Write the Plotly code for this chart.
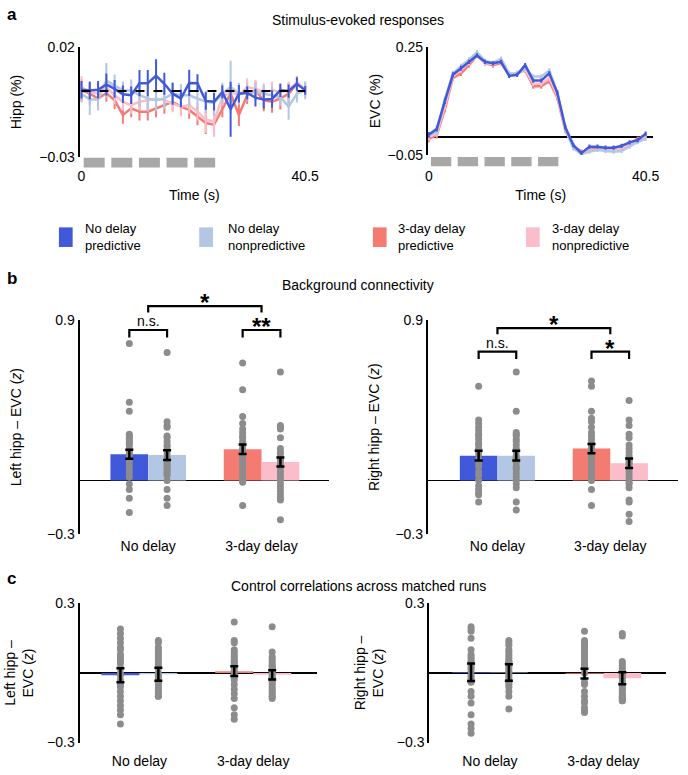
import plotly.graph_objects as go

W, H = 688, 775
FONT = "Liberation Sans, Arial, Helvetica, sans-serif"

# ---------------- data ----------------
conditions = ["No delay predictive", "No delay nonpredictive",
              "3-day delay predictive", "3-day delay nonpredictive"]
legend_lines = [("No delay", "predictive"), ("No delay", "nonpredictive"),
                ("3-day delay", "predictive"), ("3-day delay", "nonpredictive")]
colors = ["#4059DB", "#B3C6E4", "#F47B72", "#FBBDCA"]
groups = ["No delay", "3-day delay"]

time_s = [0, 1.5, 3, 4.5, 6, 7.5, 9, 10.5, 12, 13.5, 15, 16.5, 18, 19.5,
          21, 22.5, 24, 25.5, 27, 28.5, 30, 31.5, 33, 34.5, 36, 37.5, 39, 40.5]
stim_onsets = [0.4, 5.4, 10.4, 15.4, 20.4]
stim_dur = 3.8

# Panel a, hippocampus (%)
hipp_nd_pred = [0.0006, 0.0003, 0.0006, 0.0030, 0.0010, -0.0015, -0.0019, 0.0036, 0.0036, 0.0070,
                0.0033, -0.0012, -0.0034, 0.0037, 0.0036, -0.0045, -0.0049, -0.0004, -0.0083, -0.0012,
                -0.0009, -0.0030, -0.0039, -0.0036, 0.0003, 0.0000, 0.0033, 0.0003]
hipp_nd_nonp = [-0.0012, -0.0039, -0.0039, 0.0048, 0.0025, 0.0003, 0.0003, -0.0019, -0.0034, -0.0042,
                -0.0034, -0.0012, -0.0019, -0.0019, -0.0034, -0.0049, -0.0054, -0.0012, 0.0018, -0.0012,
                -0.0004, -0.0004, -0.0012, -0.0019, -0.0027, -0.0071, -0.0012, 0.0003]
hipp_dd_pred = [0.0003, -0.0012, -0.0034, -0.0009, -0.0042, -0.0109, -0.0079, -0.0094, -0.0094, -0.0079,
                -0.0064, -0.0049, -0.0071, -0.0086, -0.0116, -0.0146, -0.0153, -0.0079, -0.0012, -0.0109,
                -0.0019, 0.0003, -0.0042, -0.0049, -0.0034, -0.0012, 0.0033, 0.0006]
hipp_dd_nonp = [0.0018, -0.0004, -0.0012, 0.0018, -0.0019, -0.0049, -0.0064, -0.0049, -0.0042, -0.0034,
                -0.0042, -0.0057, -0.0071, -0.0064, -0.0094, -0.0131, -0.0138, -0.0027, -0.0004, -0.0019,
                0.0018, 0.0010, -0.0004, 0.0003, -0.0004, 0.0003, 0.0040, 0.0010]
hipp_err_nd_pred = [0.004, 0.004, 0.004, 0.005, 0.004, 0.004, 0.004, 0.006, 0.006, 0.0075,
                    0.005, 0.005, 0.004, 0.006, 0.004, 0.004, 0.004, 0.003, 0.0125, 0.004,
                    0.003, 0.004, 0.004, 0.004, 0.003, 0.003, 0.003, 0.002]
hipp_err_nd_nonp = [0.004, 0.007, 0.005, 0.008, 0.005, 0.004, 0.005, 0.005, 0.006, 0.005,
                    0.005, 0.005, 0.005, 0.005, 0.005, 0.005, 0.006, 0.005, 0.012, 0.005,
                    0.004, 0.004, 0.004, 0.004, 0.004, 0.006, 0.004, 0.004]
hipp_err_dd_pred = [0.005, 0.005, 0.004, 0.004, 0.004, 0.004, 0.004, 0.004, 0.004, 0.004,
                    0.004, 0.004, 0.004, 0.004, 0.004, 0.005, 0.005, 0.004, 0.004, 0.005,
                    0.004, 0.004, 0.005, 0.005, 0.005, 0.005, 0.003, 0.003]
hipp_err_dd_nonp = [0.005, 0.004, 0.004, 0.004, 0.004, 0.004, 0.004, 0.004, 0.004, 0.004,
                    0.004, 0.004, 0.004, 0.004, 0.004, 0.006, 0.007, 0.004, 0.004, 0.004,
                    0.004, 0.004, 0.004, 0.004, 0.004, 0.004, 0.003, 0.003]

# Panel a, EVC (%)
evc_nd_pred = [0.006, 0.023, 0.100, 0.173, 0.191, 0.209, 0.227, 0.209, 0.205, 0.209,
               0.170, 0.173, 0.200, 0.157, 0.157, 0.177, 0.123, 0.027, -0.023, -0.045,
               -0.027, -0.027, -0.030, -0.030, -0.025, -0.015, -0.009, 0.009]
evc_nd_nonp = [0.005, 0.014, 0.105, 0.177, 0.197, 0.215, 0.236, 0.212, 0.206, 0.218,
               0.177, 0.177, 0.191, 0.168, 0.168, 0.185, 0.123, 0.023, -0.032, -0.048,
               -0.041, -0.036, -0.039, -0.041, -0.039, -0.027, -0.014, -0.005]
evc_dd_pred = [-0.005, 0.005, 0.077, 0.164, 0.177, 0.200, 0.227, 0.205, 0.200, 0.206,
               0.173, 0.177, 0.186, 0.141, 0.141, 0.155, 0.109, 0.018, -0.027, -0.041,
               -0.036, -0.032, -0.034, -0.032, -0.027, -0.018, -0.005, 0.005]
evc_dd_nonp = [0.000, 0.009, 0.086, 0.168, 0.186, 0.206, 0.227, 0.206, 0.203, 0.209,
               0.175, 0.177, 0.188, 0.148, 0.148, 0.164, 0.114, 0.021, -0.030, -0.045,
               -0.039, -0.036, -0.037, -0.036, -0.032, -0.023, -0.009, 0.000]
evc_err_nd_pred = [0.008, 0.008, 0.008, 0.007, 0.007, 0.006, 0.006, 0.006, 0.006, 0.006,
                   0.006, 0.006, 0.006, 0.006, 0.006, 0.006, 0.007, 0.007, 0.006, 0.006,
                   0.006, 0.006, 0.006, 0.006, 0.006, 0.006, 0.006, 0.006]
evc_err_nd_nonp = [0.008, 0.008, 0.008, 0.007, 0.007, 0.007, 0.006, 0.006, 0.006, 0.006,
                   0.006, 0.006, 0.006, 0.006, 0.006, 0.006, 0.007, 0.007, 0.006, 0.006,
                   0.006, 0.006, 0.006, 0.006, 0.006, 0.006, 0.006, 0.006]
evc_err_dd_pred = [0.010, 0.009, 0.008, 0.007, 0.007, 0.007, 0.007, 0.007, 0.007, 0.007,
                   0.007, 0.007, 0.007, 0.007, 0.007, 0.007, 0.007, 0.007, 0.006, 0.006,
                   0.006, 0.006, 0.006, 0.006, 0.006, 0.006, 0.006, 0.006]
evc_err_dd_nonp = [0.009, 0.008, 0.008, 0.007, 0.007, 0.007, 0.007, 0.007, 0.007, 0.007,
                   0.007, 0.007, 0.007, 0.007, 0.007, 0.007, 0.007, 0.007, 0.006, 0.006,
                   0.006, 0.006, 0.006, 0.006, 0.006, 0.006, 0.006, 0.006]

# Panel b, background connectivity (z)
bg_left_means = [0.148, 0.143, 0.176, 0.104]
bg_left_sem = [0.025, 0.027, 0.027, 0.025]
bg_left_nd_pred = [0.77, 0.44, 0.39, 0.26, 0.25, 0.24, 0.23, 0.22, 0.21, 0.20, 0.18, 0.16,
                   0.14, 0.12, 0.10, 0.08, 0.06, 0.04, 0.02, -0.02, -0.05, -0.10, -0.18, 0.15]
bg_left_nd_nonp = [0.72, 0.33, 0.31, 0.30, 0.25, 0.24, 0.22, 0.20, 0.19, 0.17, 0.15, 0.13,
                   0.10, 0.09, 0.08, 0.07, 0.06, 0.05, 0.04, 0.03, -0.05, -0.10, -0.14, 0.00]
bg_left_dd_pred = [0.66, 0.51, 0.36, 0.32, 0.29, 0.27, 0.24, 0.22, 0.20, 0.18, 0.17, 0.15,
                   0.13, 0.11, 0.10, 0.08, 0.07, 0.06, 0.04, 0.02, 0.00, -0.01, -0.14, 0.25]
bg_left_dd_nonp = [0.61, 0.31, 0.30, 0.29, 0.24, 0.18, 0.16, 0.15, 0.13, 0.11, 0.09, 0.07,
                   0.05, 0.03, 0.01, 0.00, -0.02, -0.04, -0.06, -0.08, -0.10, -0.11, -0.22, 0.12]
bg_right_means = [0.140, 0.140, 0.180, 0.097]
bg_right_sem = [0.027, 0.027, 0.026, 0.027]
bg_right_nd_pred = [0.53, 0.34, 0.32, 0.30, 0.28, 0.26, 0.25, 0.23, 0.21, 0.20, 0.18, 0.15,
                    0.12, 0.10, 0.08, 0.05, 0.03, 0.00, -0.03, -0.05, -0.07, -0.08, -0.12, 0.17]
bg_right_nd_nonp = [0.61, 0.39, 0.27, 0.26, 0.25, 0.23, 0.22, 0.20, 0.18, 0.16, 0.14, 0.12,
                    0.10, 0.08, 0.06, 0.04, 0.02, 0.00, -0.02, -0.04, -0.12, -0.165, 0.13, 0.07]
bg_right_dd_pred = [0.56, 0.53, 0.39, 0.35, 0.33, 0.30, 0.27, 0.25, 0.23, 0.21, 0.19, 0.17,
                    0.15, 0.13, 0.11, 0.09, 0.07, 0.05, 0.03, 0.01, 0.00, -0.05, -0.14, 0.20]
bg_right_dd_nonp = [0.45, 0.34, 0.31, 0.26, 0.24, 0.20, 0.18, 0.16, 0.14, 0.11, 0.09, 0.07,
                    0.05, 0.03, 0.01, -0.01, -0.02, -0.04, -0.11, -0.12, -0.19, -0.23, 0.10, 0.12]

# Panel c, control correlations (z)
ctrl_left_means = [-0.010, -0.005, 0.008, -0.008]
ctrl_left_sem = [0.030, 0.028, 0.021, 0.020]
ctrl_left_nd_pred = [0.19, 0.17, 0.15, 0.13, 0.11, 0.10, 0.08, 0.07, 0.06, 0.05, 0.04, 0.02,
                     0.00, -0.01, -0.03, -0.05, -0.06, -0.08, -0.10, -0.12, -0.14, -0.16, -0.18, -0.22]
ctrl_left_nd_nonp = [0.14, 0.13, 0.11, 0.10, 0.09, 0.08, 0.07, 0.06, 0.05, 0.04, 0.03, 0.02,
                     0.00, -0.01, -0.02, -0.03, -0.04, -0.05, -0.06, -0.07, -0.08, -0.09, -0.10, -0.10]
ctrl_left_dd_pred = [0.22, 0.14, 0.13, 0.10, 0.09, 0.08, 0.07, 0.06, 0.05, 0.04, 0.03, 0.02,
                     0.01, 0.00, -0.02, -0.03, -0.05, -0.07, -0.09, -0.11, -0.15, -0.18, -0.20, 0.05]
ctrl_left_dd_nonp = [0.20, 0.09, 0.07, 0.06, 0.05, 0.04, 0.03, 0.02, 0.01, 0.00, -0.01, -0.02,
                     -0.03, -0.04, -0.05, -0.06, -0.07, -0.08, -0.09, -0.10, -0.10, -0.11, 0.03, -0.02]
ctrl_right_means = [0.003, 0.002, -0.003, -0.023]
ctrl_right_sem = [0.038, 0.036, 0.021, 0.026]
ctrl_right_nd_pred = [0.20, 0.19, 0.18, 0.15, 0.10, 0.05, 0.04, 0.03, 0.02, 0.01, -0.01, -0.02,
                      -0.03, -0.04, 0.06, 0.07, 0.08, -0.08, -0.10, -0.13, -0.18, -0.22, -0.24, -0.26]
ctrl_right_nd_nonp = [0.14, 0.13, 0.12, 0.10, 0.09, 0.08, 0.07, 0.06, 0.05, 0.04, 0.03, 0.02,
                      0.01, 0.00, -0.01, -0.02, -0.03, -0.04, -0.05, -0.06, -0.08, -0.10, -0.155, 0.05]
ctrl_right_dd_pred = [0.18, 0.14, 0.13, 0.12, 0.11, 0.10, 0.09, 0.08, 0.07, 0.06, 0.05, 0.04,
                      0.03, 0.02, -0.04, -0.05, -0.08, -0.10, -0.12, -0.13, -0.15, -0.16, -0.17, 0.00]
ctrl_right_dd_nonp = [0.17, 0.16, 0.05, 0.04, 0.03, 0.02, 0.01, 0.00, -0.01, -0.02, -0.03, -0.04,
                      -0.05, -0.06, -0.07, -0.08, -0.09, -0.10, -0.10, -0.11, -0.11, -0.12, -0.12, -0.02]

# significance brackets: (condition index a, condition index b, height, label)
sig_bg_left = [(0, 1, 0.846, "n.s."), (2, 3, 0.846, "**"), ("g0", "g1", 0.98, "*")]
sig_bg_right = [(0, 1, 0.725, "n.s."), (2, 3, 0.725, "*"), ("g0", "g1", 0.857, "*")]

# ---------------- layout geometry (pixels) ----------------
def dx(a, b):
    return [a / W, b / W]


def dy(top, bottom):
    return [1 - bottom / H, 1 - top / H]


panels = {
    "aL": dict(n=1, xd=(78, 312), xr=[-0.355, 41.21], yd=(40, 152), yr=[-0.03, 0.02]),
    "aR": dict(n=2, xd=(433, 663), xr=[-0.183, 41.96], yd=(40, 150), yr=[-0.05, 0.25]),
    "bL": dict(n=3, xd=(78, 332), xr=[-0.606, 1.593], yd=(319, 537), yr=[-0.3, 0.9]),
    "bR": dict(n=4, xd=(433, 688), xr=[-0.617, 1.60], yd=(319, 537), yr=[-0.3, 0.9]),
    "cL": dict(n=5, xd=(78, 320), xr=[-0.526, 1.56], yd=(608, 750), yr=[-0.3, 0.3]),
    "cR": dict(n=6, xd=(434.5, 676), xr=[-0.535, 1.554], yd=(608, 750), yr=[-0.3, 0.3]),
}

BAR_W = 1 / 3
pos = [g + o for g in (0, 1) for o in (-BAR_W / 2, BAR_W / 2)]

fig = go.Figure()


def ax_names(n):
    return ("x" if n == 1 else f"x{n}"), ("y" if n == 1 else f"y{n}")


# ---- panel a traces ----
hipp_series = [hipp_nd_pred, hipp_nd_nonp, hipp_dd_pred, hipp_dd_nonp]
hipp_errs = [hipp_err_nd_pred, hipp_err_nd_nonp, hipp_err_dd_pred, hipp_err_dd_nonp]
evc_series = [evc_nd_pred, evc_nd_nonp, evc_dd_pred, evc_dd_nonp]
evc_errs = [evc_err_nd_pred, evc_err_nd_nonp, evc_err_dd_pred, evc_err_dd_nonp]
draw_order = [2, 3, 1, 0]

for key, ser, err in (("aL", hipp_series, hipp_errs), ("aR", evc_series, evc_errs)):
    xa, ya = ax_names(panels[key]["n"])
    for i in draw_order:
        fig.add_trace(go.Scatter(
            x=time_s, y=ser[i], mode="lines", name=conditions[i],
            line=dict(color=colors[i], width=2.5),
            error_y=dict(type="data", array=err[i], width=0, thickness=2, color=colors[i]),
            xaxis=xa, yaxis=ya, showlegend=False))

# ---- panel b / c traces ----
bar_sets = {
    "bL": (bg_left_means, bg_left_sem, [bg_left_nd_pred, bg_left_nd_nonp, bg_left_dd_pred, bg_left_dd_nonp]),
    "bR": (bg_right_means, bg_right_sem, [bg_right_nd_pred, bg_right_nd_nonp, bg_right_dd_pred, bg_right_dd_nonp]),
    "cL": (ctrl_left_means, ctrl_left_sem, [ctrl_left_nd_pred, ctrl_left_nd_nonp, ctrl_left_dd_pred, ctrl_left_dd_nonp]),
    "cR": (ctrl_right_means, ctrl_right_sem, [ctrl_right_nd_pred, ctrl_right_nd_nonp, ctrl_right_dd_pred, ctrl_right_dd_nonp]),
}
for key, (means, sem, dots) in bar_sets.items():
    xa, ya = ax_names(panels[key]["n"])
    fig.add_trace(go.Bar(x=pos, y=means, width=BAR_W, marker=dict(color=colors, line=dict(width=0)),
                         xaxis=xa, yaxis=ya, showlegend=False, hoverinfo="skip"))
    for i in range(4):
        fig.add_trace(go.Scatter(x=[pos[i]] * len(dots[i]), y=dots[i], mode="markers",
                                 marker=dict(size=7, color="#8C8C8C"), name=conditions[i],
                                 xaxis=xa, yaxis=ya, showlegend=False))
    fig.add_trace(go.Scatter(x=pos, y=means, mode="markers",
                             marker=dict(size=1, color="rgba(0,0,0,0)"),
                             error_y=dict(type="data", array=sem, width=4, thickness=2.5, color="black"),
                             xaxis=xa, yaxis=ya, showlegend=False))

# ---- axes ----
layout = dict(
    width=W, height=H, margin=dict(l=0, r=0, t=0, b=0),
    paper_bgcolor="white", plot_bgcolor="rgba(0,0,0,0)",
    font=dict(family=FONT, size=14, color="black"),
    showlegend=False,
)
ytitles = {
    "aL": "Hipp (%)", "aR": "EVC (%)",
    "bL": "Left hipp – EVC (<i>z</i>)", "bR": "Right hipp – EVC (<i>z</i>)",
    "cL": "Left hipp –<br>EVC (<i>z</i>)", "cR": "Right hipp –<br>EVC (<i>z</i>)",
}
ystand = {"aL": 14, "aR": 4, "bL": 22, "bR": 12, "cL": 10, "cR": 10}
for key, p in panels.items():
    n = p["n"]
    xk = "xaxis" if n == 1 else f"xaxis{n}"
    yk = "yaxis" if n == 1 else f"yaxis{n}"
    xa, ya = ax_names(n)
    yaxis = dict(domain=dy(*p["yd"]), range=p["yr"], anchor=xa, showgrid=False,
                 showline=True, linecolor="black", linewidth=2, ticks="",
                 tickvals=p["yr"], tickfont=dict(size=14),
                 title=dict(text=ytitles[key], font=dict(size=14), standoff=ystand[key]),
                 zeroline=(key != "aL"), zerolinecolor="black", zerolinewidth=1.8,
                 fixedrange=True)
    if key.startswith("a"):
        xaxis = dict(domain=dx(*p["xd"]), range=p["xr"], anchor="free",
                     position=1 - 161 / H, showgrid=False, showline=False, zeroline=False,
                     ticks="", tickvals=[time_s[0], time_s[-1]], tickfont=dict(size=14),
                     title=dict(text="Time (s)", font=dict(size=14), standoff=7))
    else:
        xaxis = dict(domain=dx(*p["xd"]), range=p["xr"], anchor=ya, showgrid=False,
                     showline=False, zeroline=False, ticks="", tickvals=[0, 1],
                     ticktext=groups, tickfont=dict(size=14),
                     ticklabelstandoff=(2 if key.startswith("b") else 8))
    layout[xk] = xaxis
    layout[yk] = yaxis

shapes = []
annotations = []

# dashed zero line in hippocampal time course
shapes.append(dict(type="line", xref="x", yref="y", x0=time_s[0], x1=time_s[-1], y0=0, y1=0,
                   line=dict(color="black", width=2, dash="dash")))

# stimulus blocks
for key, (b0, b1) in (("aL", (-0.008, -0.098)), ("aR", (-0.02, -0.105))):
    xa, ya = ax_names(panels[key]["n"])
    for on in stim_onsets:
        shapes.append(dict(type="rect", xref=xa, yref=f"{ya} domain", x0=on, x1=on + stim_dur,
                           y0=b1, y1=b0, fillcolor="#A8A8A8", line=dict(width=0)))

# significance brackets
for key, sigs in (("bL", sig_bg_left), ("bR", sig_bg_right)):
    p = panels[key]
    xa, ya = ax_names(p["n"])
    y0r, y1r = p["yr"]
    for a, b, h, lab in sigs:
        if isinstance(a, str):
            x0, x1 = int(a[1]), int(b[1])
            drop = 0.035
        else:
            x0, x1 = pos[a], pos[b]
            drop = 0.042
        fy = (h - y0r) / (y1r - y0r)
        fd = (h - drop - y0r) / (y1r - y0r)
        shapes.append(dict(type="path", xref=xa, yref=f"{ya} domain",
                           path=f"M{x0},{fd} L{x0},{fy} L{x1},{fy} L{x1},{fd}",
                           line=dict(color="black", width=2.2)))
        if lab.startswith("*"):
            annotations.append(dict(x=(x0 + x1) / 2, y=fy, xref=xa, yref=f"{ya} domain",
                                    text=f"<b>{lab}</b>", showarrow=False, xanchor="center",
                                    yanchor="bottom", yshift=-12, font=dict(size=24)))
        else:
            annotations.append(dict(x=(x0 + x1) / 2, y=fy, xref=xa, yref=f"{ya} domain",
                                    text=lab, showarrow=False, xanchor="center",
                                    yanchor="bottom", yshift=-1, font=dict(size=14)))

# legend (colour swatches + labels)
leg_sq_x = [57, 200, 377, 533]
leg_tx_x = [82, 227, 401, 558]
for i in range(4):
    shapes.append(dict(type="rect", xref="paper", yref="paper",
                       x0=leg_sq_x[i] / W, x1=(leg_sq_x[i] + 14) / W,
                       y0=1 - 244 / H, y1=1 - 224 / H, fillcolor=colors[i], line=dict(width=0)))
    annotations.append(dict(x=leg_tx_x[i] / W, y=1 - 234 / H, xref="paper", yref="paper",
                            text="<br>".join(legend_lines[i]), showarrow=False, xanchor="left",
                            yanchor="middle", align="left", font=dict(size=13)))

# titles and panel letters
for txt, ypx in (("Stimulus-evoked responses", 12), ("Background connectivity", 283),
                 ("Control correlations across matched runs", 590)):
    annotations.append(dict(x=362 / W, y=1 - ypx / H, xref="paper", yref="paper", text=txt,
                            showarrow=False, xanchor="center", yanchor="middle", font=dict(size=14)))
for txt, ypx in (("a", 7), ("b", 276), ("c", 583)):
    annotations.append(dict(x=2 / W, y=1 - ypx / H, xref="paper", yref="paper", text=f"<b>{txt}</b>",
                            showarrow=False, xanchor="left", yanchor="middle", font=dict(size=17)))

layout["shapes"] = shapes
layout["annotations"] = annotations
fig.update_layout(**layout)
fig.write_html("out.html",
               config={"displayModeBar": False, "staticPlot": True},
               post_script="document.body.style.margin='0';document.body.style.overflow='hidden';")
